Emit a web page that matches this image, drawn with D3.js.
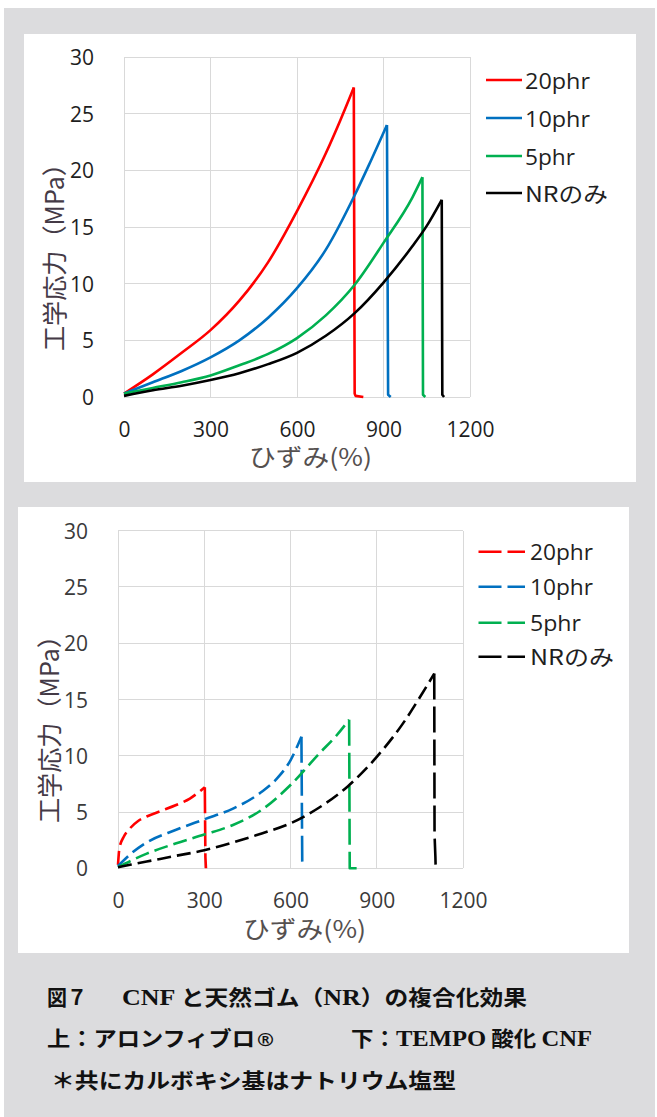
<!DOCTYPE html>
<html><head><meta charset="utf-8">
<script src="https://cdn.jsdelivr.net/npm/d3@7"></script>
<style>body{margin:0;background:#fff}svg{display:block}</style>
</head><body>
<svg id="c" width="657" height="1117"></svg>
<script>
// ---------- data ----------
const xTicks = [0, 300, 600, 900, 1200];
const yTicks = [0, 5, 10, 15, 20, 25, 30];
const seriesNames = ["20phr", "10phr", "5phr", "NRのみ"];
const yTitle = "工学応力（MPa）";
const xTitle = "ひずみ(%)";

// upper chart: アロンフィブロ (strain %, stress MPa)
const aron20 = [[0,0.3],[100,2.0],[200,3.9],[300,5.9],[400,8.5],[500,11.9],[600,16.4],[700,21.5],[750,24.4],[797,27.3],[800,0.3],[803,0.1],[830,0]];
const aron10 = [[0,0.3],[100,1.3],[200,2.3],[300,3.5],[400,5.0],[500,7.0],[600,9.6],[700,13.0],[800,17.8],[850,20.5],[912,24.0],[916,0.2],[925,0]];
const aron5  = [[0,0.3],[100,0.8],[200,1.3],[300,1.9],[400,2.8],[500,3.8],[600,5.2],[700,7.2],[800,9.9],[900,13.6],[1000,17.6],[1035,19.4],[1037,0.2],[1045,0]];
const aronNR = [[0,0.1],[100,0.6],[200,1.0],[300,1.5],[400,2.1],[500,2.9],[600,3.9],[700,5.4],[800,7.4],[900,10.1],[1000,13.3],[1050,15.1],[1102,17.4],[1104,0.2],[1110,0]];

// lower chart: TEMPO酸化CNF
const tempo20 = [[0,0.3],[5,1.8],[20,2.8],[40,3.5],[70,4.2],[100,4.6],[150,5.1],[200,5.6],[250,6.2],[302,7.2],[304,1.0],[306,0]];
const tempo10 = [[0,0.2],[50,1.4],[100,2.3],[200,3.4],[300,4.35],[400,5.3],[500,6.8],[550,7.9],[600,9.6],[638,11.7],[641,0]];
const tempo5  = [[0,0.1],[100,1.3],[200,2.2],[300,3.0],[400,3.85],[500,5.2],[600,7.4],[700,10.2],[760,11.8],[804,13.2],[806,0],[830,0]];
const tempoNR = [[0,0.1],[100,0.6],[200,1.1],[300,1.6],[400,2.3],[500,3.1],[600,4.0],[700,5.4],[800,7.3],[900,9.9],[1000,13.2],[1050,15.2],[1100,17.3],[1101,3.0],[1104,1.0],[1105,0]];

// ---------- styles ----------
const seriesColors = ["#ff0000", "#0070c0", "#00b050", "#000000"];
const SANS = "'Open Sans', 'Noto Sans', sans-serif";
const CJK = "'Noto Sans CJK JP', sans-serif";
const SERIF = "'Liberation Serif', serif";

const svg = d3.select("#c");
svg.append("rect").attr("x", 4).attr("y", 8).attr("width", 651).attr("height", 1109).attr("fill", "#dcdcde");

function panel(cfg) {
  svg.append("rect").attr("x", cfg.px).attr("y", cfg.py).attr("width", cfg.pw).attr("height", cfg.ph).attr("fill", "#fff");
  const x = d3.scaleLinear().domain([0, 1200]).range([cfg.x0, cfg.x1]);
  const y = d3.scaleLinear().domain([0, 30]).range([cfg.y1, cfg.y0]);
  const g = svg.append("g");

  // grid
  g.selectAll(null).data(xTicks).join("line")
    .attr("x1", d => x(d)).attr("x2", d => x(d)).attr("y1", y(0)).attr("y2", y(30))
    .attr("stroke", "#d9d9d9").attr("stroke-width", 1).attr("shape-rendering", "crispEdges");
  g.selectAll(null).data(yTicks).join("line")
    .attr("y1", d => y(d)).attr("y2", d => y(d)).attr("x1", x(0)).attr("x2", x(1200))
    .attr("stroke", "#d9d9d9").attr("stroke-width", 1).attr("shape-rendering", "crispEdges");

  // axes
  const ya = g.append("g").attr("transform", `translate(${cfg.x0},0)`)
    .call(d3.axisLeft(y).tickValues(yTicks).tickSize(0).tickPadding(30).tickFormat(d3.format("d")));
  const xa = g.append("g").attr("transform", `translate(0,${cfg.y1})`)
    .call(d3.axisBottom(x).tickValues(xTicks).tickSize(0).tickPadding(25).tickFormat(d3.format("d")));
  [ya, xa].forEach(a => {
    a.select(".domain").remove();
    a.selectAll("text").attr("font-family", SANS).attr("font-size", 21).attr("fill", cfg.tickColor);
  });
  ya.selectAll("text").attr("dy", "0.36em");

  // titles
  g.append("text").attr("transform", `translate(${cfg.ytx},${cfg.yty}) rotate(-90)`)
    .attr("text-anchor", "middle").attr("dominant-baseline", "central")
    .attr("font-family", CJK).attr("font-size", 25).attr("fill", "#443a46")
    .attr("textLength", 200).attr("lengthAdjust", "spacingAndGlyphs").text(yTitle);
  g.append("text").attr("x", cfg.xtx).attr("y", cfg.xty)
    .attr("text-anchor", "middle").attr("dominant-baseline", "central")
    .attr("font-family", CJK).attr("font-size", 24).attr("fill", "#55504f")
    .attr("textLength", 123).attr("lengthAdjust", "spacingAndGlyphs").text(xTitle);

  // series
  const curveLine = d3.line().x(d => x(d[0])).y(d => y(d[1])).curve(d3.curveMonotoneX);
  const dropLine = d3.line().x(d => x(d[0])).y(d => y(d[1]));
  cfg.series.forEach((s, i) => {
    let pk = 0;
    s.forEach((d, j) => { if (d[1] > s[pk][1]) pk = j; });
    const curve = s.slice(0, pk + 1), drop = s.slice(pk);
    [[curve, curveLine, cfg.dashCurve], [drop, dropLine, cfg.dashDrop]].forEach(([pts, gen, dash]) => {
      g.append("path").datum(pts).attr("d", gen)
        .attr("fill", "none").attr("stroke", seriesColors[i]).attr("stroke-width", 2.6)
        .attr("stroke-linejoin", "round")
        .attr("stroke-dasharray", dash);
    });
  });

  // legend
  seriesNames.forEach((n, i) => {
    const ly = cfg.legY[i];
    g.append("line").attr("x1", cfg.lx0).attr("x2", cfg.lx1).attr("y1", ly).attr("y2", ly)
      .attr("stroke", seriesColors[i]).attr("stroke-width", 2.6).attr("stroke-dasharray", cfg.dashLeg);
    g.append("text").attr("x", cfg.ltx).attr("y", ly + 8.5)
      .attr("font-family", i === 3 ? CJK : SANS).attr("font-size", 22).attr("fill", "#1f1f1f")
      .attr("textLength", cfg.legW[i]).attr("lengthAdjust", "spacingAndGlyphs").text(n);
  });
}

panel({
  px: 24, py: 34, pw: 612, ph: 448,
  x0: 124, x1: 470, y0: 57, y1: 397,
  tickColor: "#1e1e1e",
  ytx: 53, yty: 251, xtx: 310.5, xty: 455,
  series: [aron20, aron10, aron5, aronNR],
  dashCurve: null, dashDrop: null, dashLeg: null,
  lx0: 486, lx1: 522, ltx: 525, legY: [80, 118, 156, 193], legW: [65, 65, 50, 83]
});
panel({
  px: 18, py: 507, pw: 611, ph: 446,
  x0: 118, x1: 463, y0: 530.7, y1: 868.3,
  tickColor: "#3a3a3a",
  ytx: 47.5, yty: 723, xtx: 304.6, xty: 927,
  series: [tempo20, tempo10, tempo5, tempoNR],
  dashCurve: "14,6", dashDrop: "26,7", dashLeg: "23,6",
  lx0: 478.5, lx1: 525, ltx: 530, legY: [551.7, 586.7, 622.7, 656.7], legW: [63, 63, 51, 84]
});

// ---------- caption ----------
function cap(x, y, len, parts, size) {
  const t = svg.append("text").attr("x", x).attr("y", y)
    .attr("font-size", size || 21).attr("font-weight", 700).attr("fill", "#111")
    .attr("textLength", len).attr("lengthAdjust", "spacingAndGlyphs");
  parts.forEach(p => {
    const ts = t.append("tspan").attr("font-family", p[1] === 1 ? SERIF : (p[1] === 2 ? SANS : CJK)).text(p[0]);
    if (p[1] === 1) ts.attr("font-size", 23);
  });
}
cap(47, 1005, 40, [["図７", 0]]);
cap(122, 1005, 405, [["CNF", 1], [" と天然ゴム（", 0], ["NR", 1], ["）の複合化効果", 0]]);
cap(47, 1046, 208, [["上：アロンフィブロ", 0]]);
cap(257, 1046, 17, [["®", 2]], 17);
cap(351, 1046, 241, [["下：", 0], ["TEMPO", 1], [" 酸化 ", 0], ["CNF", 1]]);
cap(51, 1088, 405, [["＊共にカルボキシ基はナトリウム塩型", 0]]);
</script>
</body></html>
